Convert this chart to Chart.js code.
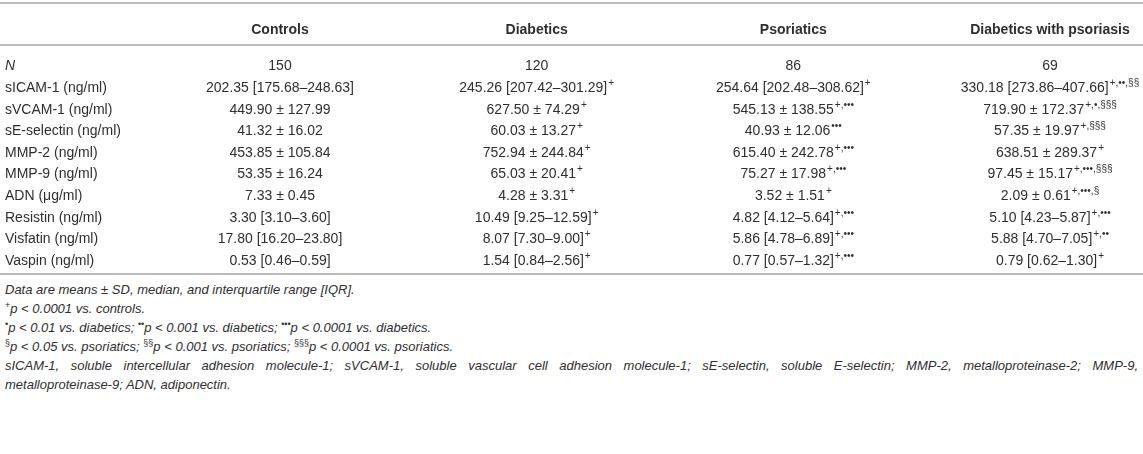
<!DOCTYPE html>
<html>
<head>
<meta charset="utf-8">
<script src="https://cdn.jsdelivr.net/npm/chart.js@4.4.1/dist/chart.umd.min.js"></script>
<style>
  body { margin: 0; background: #fff; }
  .table-wrap { position: relative; width: 1143px; height: 276px; }
  .notes {
    margin-top: 4px;
    padding-left: 5px;
    width: 1133px;
    font-family: "Liberation Sans", Arial, sans-serif;
    font-style: italic;
    font-size: 13px;
    line-height: 19px;
    color: #2e2e2e;
  }
  .notes div { white-space: nowrap; height: 19px; }
  .notes div.just { white-space: normal; text-align: justify; text-align-last: justify; }
  .notes .sp { font-style: normal; font-size: 9px; line-height: 0; position: relative; top: -5px; }
</style>
</head>
<body>
<div class="table-wrap"><canvas id="table"></canvas></div>
<div class="notes">
  <div>Data are means ± SD, median, and interquartile range [IQR].</div>
  <div><span class="sp">+</span>p &lt; 0.0001 vs. controls.</div>
  <div><span class="sp">•</span>p &lt; 0.01 vs. diabetics; <span class="sp">••</span>p &lt; 0.001 vs. diabetics; <span class="sp">•••</span>p &lt; 0.0001 vs. diabetics.</div>
  <div><span class="sp">§</span>p &lt; 0.05 vs. psoriatics; <span class="sp">§§</span>p &lt; 0.001 vs. psoriatics; <span class="sp">§§§</span>p &lt; 0.0001 vs. psoriatics.</div>
  <div class="just">sICAM-1, soluble intercellular adhesion molecule-1; sVCAM-1, soluble vascular cell adhesion molecule-1; sE-selectin, soluble E-selectin; MMP-2, metalloproteinase-2; MMP-9,</div>
  <div>metalloproteinase-9; ADN, adiponectin.</div>
</div>
<script>
const groups = ['Controls', 'Diabetics', 'Psoriatics', 'Diabetics with psoriasis'];
const rowLabels = ['N', 'sICAM-1 (ng/ml)', 'sVCAM-1 (ng/ml)', 'sE-selectin (ng/ml)', 'MMP-2 (ng/ml)',
  'MMP-9 (ng/ml)', 'ADN (μg/ml)', 'Resistin (ng/ml)', 'Visfatin (ng/ml)', 'Vaspin (ng/ml)'];

// text after ^ is superscript
const controls = ['150', '202.35 [175.68–248.63]', '449.90 ± 127.99', '41.32 ± 16.02', '453.85 ± 105.84',
  '53.35 ± 16.24', '7.33 ± 0.45', '3.30 [3.10–3.60]', '17.80 [16.20–23.80]', '0.53 [0.46–0.59]'];
const diabetics = ['120', '245.26 [207.42–301.29]^+', '627.50 ± 74.29^+', '60.03 ± 13.27^+', '752.94 ± 244.84^+',
  '65.03 ± 20.41^+', '4.28 ± 3.31^+', '10.49 [9.25–12.59]^+', '8.07 [7.30–9.00]^+', '1.54 [0.84–2.56]^+'];
const psoriatics = ['86', '254.64 [202.48–308.62]^+', '545.13 ± 138.55^+,•••', '40.93 ± 12.06^•••',
  '615.40 ± 242.78^+,•••', '75.27 ± 17.98^+,•••', '3.52 ± 1.51^+', '4.82 [4.12–5.64]^+,•••',
  '5.86 [4.78–6.89]^+,•••', '0.77 [0.57–1.32]^+,•••'];
const diabPsoriasis = ['69', '330.18 [273.86–407.66]^+,••,§§', '719.90 ± 172.37^+,•,§§§', '57.35 ± 19.97^+,§§§',
  '638.51 ± 289.37^+', '97.45 ± 15.17^+,•••,§§§', '2.09 ± 0.61^+,•••,§', '5.10 [4.23–5.87]^+,•••',
  '5.88 [4.70–7.05]^+,••', '0.79 [0.62–1.30]^+'];

const FONT = '"Liberation Sans", Arial, Helvetica, sans-serif';
const TEXT = '#2e2e2e';

const columns = [controls, diabetics, psoriatics, diabPsoriasis];
const cells = [];
columns.forEach((col, c) => {
  col.forEach((txt, r) => {
    cells.push({ x: groups[c], y: r + 1, text: txt });
  });
});

const cellText = {
  id: 'cellText',
  afterDatasetsDraw(chart) {
    const ctx = chart.ctx;
    const meta = chart.getDatasetMeta(0);
    const data = chart.data.datasets[0].data;
    ctx.save();
    ctx.fillStyle = TEXT;
    ctx.textBaseline = 'middle';
    ctx.textAlign = 'left';
    meta.data.forEach((pt, i) => {
      const parts = data[i].text.split('^');
      const main = parts[0];
      const sup = parts[1] || '';
      ctx.font = '14px ' + FONT;
      const w1 = ctx.measureText(main).width;
      ctx.font = '10px ' + FONT;
      const w2 = sup ? ctx.measureText(sup).width + 1 : 0;
      const x = pt.x - (w1 + w2) / 2;
      ctx.font = '14px ' + FONT;
      ctx.fillText(main, x, pt.y);
      if (sup) {
        ctx.font = '10px ' + FONT;
        ctx.fillText(sup, x + w1 + 1, pt.y - 5);
      }
    });
    ctx.restore();
  }
};

const rules = {
  id: 'rules',
  afterDraw(chart) {
    const ctx = chart.ctx;
    const a = chart.chartArea;
    ctx.save();
    ctx.strokeStyle = '#bdbdbd';
    ctx.lineWidth = 2;
    [3, a.top, a.bottom].forEach(y => {
      ctx.beginPath();
      ctx.moveTo(0, y);
      ctx.lineTo(chart.width, y);
      ctx.stroke();
    });
    ctx.restore();
  }
};

new Chart(document.getElementById('table'), {
  type: 'scatter',
  data: {
    datasets: [{
      data: cells,
      pointRadius: 0,
      pointHoverRadius: 0
    }]
  },
  options: {
    responsive: true,
    maintainAspectRatio: false,
    animation: false,
    events: [],
    layout: { padding: { left: 5, right: 93, top: 0, bottom: 2 } },
    plugins: { legend: { display: false }, tooltip: { enabled: false } },
    scales: {
      x: {
        type: 'category',
        labels: groups,
        position: 'top',
        offset: false,
        grid: { display: false, drawTicks: false },
        border: { display: false },
        afterFit: s => { s.height = 45; },
        ticks: {
          padding: 6,
          color: TEXT,
          maxRotation: 0,
          autoSkip: false,
          font: { family: FONT, size: 14, weight: 'bold' }
        }
      },
      y: {
        type: 'linear',
        reverse: true,
        min: 0,
        max: 10.6,
        grid: { display: false, drawTicks: false },
        border: { display: false },
        afterBuildTicks: s => { s.ticks = rowLabels.map((_, i) => ({ value: i + 1 })); },
        afterFit: s => { s.width = 275; s.paddingTop = 0; s.paddingBottom = 0; },
        ticks: {
          autoSkip: false,
          crossAlign: 'far',
          color: TEXT,
          font: c => ({ family: FONT, size: 14, style: c.index === 0 ? 'italic' : 'normal' }),
          callback: (v, i) => rowLabels[i]
        }
      }
    }
  },
  plugins: [cellText, rules]
});
</script>
</body>
</html>
